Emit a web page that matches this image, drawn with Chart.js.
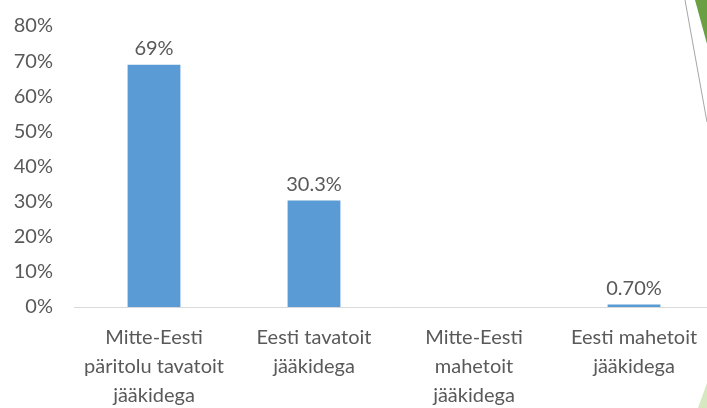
<!DOCTYPE html>
<html>
<head>
<meta charset="utf-8">
<script src="https://cdn.jsdelivr.net/npm/chart.js@4/dist/chart.umd.min.js"></script>
<style>
html,body{margin:0;padding:0;background:#fff;overflow:hidden;width:707px;height:408px;}
#wrap{position:absolute;left:0;top:0;width:714px;height:408px;}
</style>
</head>
<body>
<div id="wrap"><canvas id="c" width="714" height="408"></canvas></div>
<script>
const categories = [
  ["Mitte-Eesti", "päritolu tavatoit", "jääkidega"],
  ["Eesti tavatoit", "jääkidega"],
  ["Mitte-Eesti", "mahetoit", "jääkidega"],
  ["Eesti mahetoit", "jääkidega"]
];
const values = [69, 30.3, 0, 0.7];
const valueLabels = ["69%", "30.3%", "", "0.70%"];
const yTicks = [0, 10, 20, 30, 40, 50, 60, 70, 80];

const textColor = "#595959";
const fontFamily = "Lato, 'Open Sans', sans-serif";

const dataLabelPlugin = {
  id: "dataLabels",
  afterDatasetsDraw(chart) {
    const ctx = chart.ctx;
    const meta = chart.getDatasetMeta(0);
    ctx.save();
    ctx.fillStyle = textColor;
    ctx.font = "20px " + fontFamily;
    ctx.textAlign = "center";
    ctx.textBaseline = "bottom";
    meta.data.forEach((bar, i) => {
      const t = valueLabels[i];
      if (!t) return;
      ctx.fillText(t, bar.x, bar.y - 6);
    });
    ctx.restore();
  }
};

const decoPlugin = {
  id: "deco",
  afterDraw(chart) {
    const ctx = chart.ctx;
    ctx.save();
    ctx.fillStyle = "#6aa043";
    ctx.beginPath();
    ctx.moveTo(695, 0); ctx.lineTo(714, 0); ctx.lineTo(714, 45); ctx.lineTo(707, 44); ctx.closePath();
    ctx.fill();
    ctx.strokeStyle = "#a6a6a6";
    ctx.lineWidth = 1;
    ctx.beginPath();
    ctx.moveTo(685, 0); ctx.lineTo(707, 122);
    ctx.stroke();
    ctx.fillStyle = "#d5e8c0";
    ctx.beginPath();
    ctx.moveTo(698, 408); ctx.lineTo(707, 383); ctx.lineTo(707, 408); ctx.closePath();
    ctx.fill();
    ctx.restore();
  }
};

new Chart(document.getElementById("c"), {
  type: "bar",
  data: {
    labels: categories,
    datasets: [{
      data: values,
      backgroundColor: "#5b9bd5",
      borderWidth: 0,
      barPercentage: 0.33,
      categoryPercentage: 1.0
    }]
  },
  options: {
    responsive: false,
    animation: false,
    events: [],
    layout: { padding: { top: 26, right: 0, left: 0, bottom: 0 } },
    plugins: { legend: { display: false }, tooltip: { enabled: false } },
    scales: {
      x: {
        grid: { display: false, drawTicks: false },
        border: { display: true, color: "#d9d9d9", width: 1 },
        ticks: {
          color: textColor,
          font: { family: fontFamily, size: 20, lineHeight: 1.45 },
          padding: 16,
          maxRotation: 0,
          autoSkip: false
        },
        afterFit(scale) {
          scale.height = 101;
          scale.paddingTop = 0; scale.paddingBottom = 0;
          scale.paddingLeft = 0; scale.paddingRight = 0;
        }
      },
      y: {
        min: 0, max: 80,
        afterBuildTicks(scale) { scale.ticks = yTicks.map(v => ({ value: v })); },
        grid: { display: false, drawTicks: false },
        border: { display: false },
        ticks: {
          color: textColor,
          font: { family: fontFamily, size: 20 },
          padding: 21,
          callback: v => v + "%"
        },
        afterFit(scale) {
          scale.width = 74;
          scale.paddingTop = 0; scale.paddingBottom = 0;
        }
      }
    }
  },
  plugins: [dataLabelPlugin, decoPlugin]
});
</script>
</body>
</html>
